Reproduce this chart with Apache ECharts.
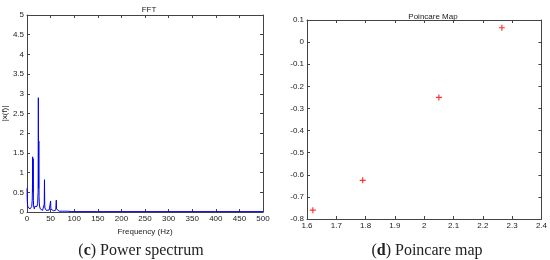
<!DOCTYPE html>
<html>
<head>
<meta charset="utf-8">
<script src="https://cdn.jsdelivr.net/npm/echarts@6/dist/echarts.min.js"></script>
<style>
html,body{margin:0;padding:0;background:#fff;}
#main{width:550px;height:260px;}
</style>
</head>
<body>
<div id="main"></div>
<script>
// FFT spectrum: frequency (Hz) / amplitude |x(f)|
var fftFreq = [0,0.5,1,1.5,2,2.5,3,3.5,4,4.5,5,5.5,6,6.5,7,7.5,8,8.5,9,9.5,10,10.5,11,11.5,12,12.5,13,13.5,14,14.5,15,15.5,16,16.5,17,17.5,18,18.5,19,19.5,
  20,20.5,21,21.5,22,22.5,23,23.5,24,24.5,25,25.5,26,26.5,27,27.5,28,29,30,31,32,33,34,35,36,36.5,37,37.5,38,39,40,41,42,43,44,45,46,47,48,49,49.5,50,50.5,51,
  52,54,56,58,60,61,61.5,62,62.5,63,64,66,68,70,72,75,78,80,84,86,87,88,90,95,100,150,200,250,300,350,400,450,500];
var fftAmp = [0.6,0.3,0.2,0.15,0.12,0.14,0.1,0.12,0.08,0.1,0.07,0.09,0.11,0.08,0.06,0.09,0.1,0.08,0.12,0.1,0.14,0.18,0.3,0.6,1.4,0.5,1.35,0.3,0.15,0.12,0.1,0.08,0.11,0.14,0.1,0.16,0.12,0.09,0.15,0.11,
  0.12,0.1,0.14,0.18,0.16,0.22,0.38,0.5,2.9,0.6,1.8,0.4,0.25,0.15,0.12,0.1,0.08,0.06,0.07,0.05,0.06,0.04,0.05,0.06,0.08,0.2,0.82,0.18,0.1,0.06,0.05,0.04,0.05,0.04,0.05,0.03,0.04,0.05,0.04,0.06,0.1,0.28,0.08,0.04,
  0.03,0.04,0.03,0.04,0.03,0.05,0.1,0.3,0.08,0.04,0.03,0.03,0.02,0.03,0.02,0.02,0.02,0.02,0.02,0.02,0.03,0.06,0.02,0.01,0.01,0.01,0.01,0.01,0.01,0.01,0.01,0.01,0.01,0.01];
var fftXTicks = {min:0, max:500, interval:50};
var fftYTicks = {min:0, max:5, interval:0.5};

// Poincare map points
var poincX = [1.62, 1.79, 2.05, 2.265];
var poincY = [-0.76, -0.625, -0.25, 0.065];
var poincXTicks = {min:1.6, max:2.4, interval:0.1};
var poincYTicks = {min:-0.8, max:0.1, interval:0.1};

var fftData = fftFreq.map(function(f, i){ return [f, fftAmp[i]]; });
var poincData = poincX.map(function(x, i){ return [x, poincY[i]]; });

var frameColor = '#444';
var labelStyle = {fontSize:8, color:'#222', fontFamily:'Liberation Sans, Arial, sans-serif'};
var capFont = 'Liberation Serif, Times New Roman, serif';

function fmt(v){
  var s = Math.round(v * 10) / 10;
  return String(s);
}

function mainAxis(grid, ticks, pos, extra){
  var ax = {
    type:'value', gridIndex:grid, position:pos,
    min:ticks.min, max:ticks.max, interval:ticks.interval,
    axisLine:{show:true, onZero:false, lineStyle:{color:frameColor, width:1}},
    axisTick:{show:true, inside:true, length:3, lineStyle:{color:frameColor}},
    axisLabel:Object.assign({show:true, margin:3, formatter:fmt, showMinLabel:true, showMaxLabel:true}, labelStyle),
    splitLine:{show:false}
  };
  return Object.assign(ax, extra || {});
}
function boxAxis(grid, ticks, pos){
  return {
    type:'value', gridIndex:grid, position:pos,
    min:ticks.min, max:ticks.max, interval:ticks.interval,
    axisLine:{show:true, onZero:false, lineStyle:{color:frameColor, width:1}},
    axisTick:{show:true, inside:true, length:3, lineStyle:{color:frameColor}},
    axisLabel:{show:false},
    splitLine:{show:false}
  };
}

var myChart = echarts.init(document.getElementById('main'));
var option = {
  backgroundColor:'#fff',
  animation:false,
  title:[
    {text:'FFT', left:144, top:1, textAlign:'center', textStyle:{fontSize:8, fontWeight:'normal', color:'#222', fontFamily:'Liberation Sans, Arial, sans-serif'}},
    {text:'Poincare Map', left:428, top:8, textAlign:'center', textStyle:{fontSize:8, fontWeight:'normal', color:'#222', fontFamily:'Liberation Sans, Arial, sans-serif'}},
    {text:'({b|c}) Power spectrum', left:136, top:238, textAlign:'center',
      textStyle:{fontSize:16, fontWeight:'normal', color:'#222', fontFamily:capFont,
        rich:{b:{fontSize:16, fontWeight:'bold', color:'#222', fontFamily:capFont}}}},
    {text:'({b|d}) Poincare map', left:422, top:238, textAlign:'center',
      textStyle:{fontSize:16, fontWeight:'normal', color:'#222', fontFamily:capFont,
        rich:{b:{fontSize:16, fontWeight:'bold', color:'#222', fontFamily:capFont}}}}
  ],
  grid:[
    {left:26, top:15, width:237, height:197},
    {left:307, top:20, width:236, height:199}
  ],
  xAxis:[
    mainAxis(0, fftXTicks, 'bottom', {name:'Frequency (Hz)', nameLocation:'middle', nameGap:16,
      nameTextStyle:labelStyle}),
    boxAxis(0, fftXTicks, 'top'),
    mainAxis(1, poincXTicks, 'bottom'),
    boxAxis(1, poincXTicks, 'top')
  ],
  yAxis:[
    mainAxis(0, fftYTicks, 'left', {name:'|x(f)|', nameLocation:'middle', nameGap:18, nameRotate:90,
      nameTextStyle:labelStyle}),
    boxAxis(0, fftYTicks, 'right'),
    mainAxis(1, poincYTicks, 'left'),
    boxAxis(1, poincYTicks, 'right')
  ],
  series:[
    {
      name:'FFT', type:'line', xAxisIndex:0, yAxisIndex:0,
      data:fftData, showSymbol:false, symbol:'none',
      lineStyle:{color:'#0000ee', width:1}
    },
    {
      name:'Poincare', type:'scatter', xAxisIndex:2, yAxisIndex:2,
      data:poincData,
      symbol:'path://M4,0 L6,0 L6,4 L10,4 L10,6 L6,6 L6,10 L4,10 L4,6 L0,6 L0,4 L4,4 Z',
      symbolSize:6,
      itemStyle:{color:'#ff0000'}
    }
  ]
};
myChart.setOption(option);
</script>
</body>
</html>
